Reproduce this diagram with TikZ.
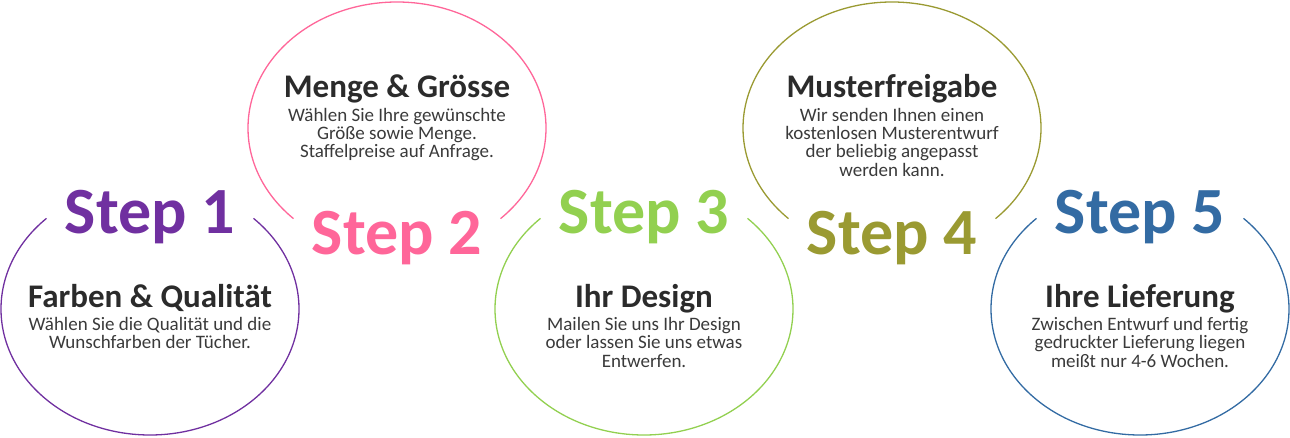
\documentclass[tikz,border=0pt]{standalone}
\usepackage{fontspec}
\setmainfont{Carlito}
\definecolor{cpurple}{HTML}{7030A0}
\definecolor{cpink}{HTML}{FF6699}
\definecolor{cgreen}{HTML}{92D050}
\definecolor{colive}{HTML}{9A9A32}
\definecolor{cblue}{HTML}{336BA3}
\definecolor{ctitle}{HTML}{2B2B2B}
\definecolor{cbody}{HTML}{3A3A3A}
\begin{document}
\begin{tikzpicture}[x=1pt,y=1pt,
  ring/.style={line width=1.3pt},
  steplabel/.style={font=\fontsize{66}{66}\selectfont\bfseries, anchor=base, inner sep=0pt},
  titlelabel/.style={font=\fontsize{33}{33}\selectfont\bfseries, text=ctitle, anchor=base, inner sep=0pt},
  bodylabel/.style={font=\fontsize{19}{18.5}\selectfont, text=cbody, align=center, anchor=base, inner sep=0pt},
]
\useasboundingbox (0,0) rectangle (1290,437);
% rings: bottom (1,3,5) open at top, top (2,4) open at bottom
\draw[ring, cpurple] (150,128) ++(134:149pt and 126pt) arc[start angle=134, end angle=406, x radius=149pt, y radius=126pt];
\draw[ring, cgreen]  (644,128) ++(134:149pt and 126pt) arc[start angle=134, end angle=406, x radius=149pt, y radius=126pt];
\draw[ring, cblue]   (1140,128) ++(134:149pt and 126pt) arc[start angle=134, end angle=406, x radius=149pt, y radius=126pt];
\draw[ring, cpink]   (397,309) ++(-46:149pt and 126pt) arc[start angle=-46, end angle=226, x radius=149pt, y radius=126pt];
\draw[ring, colive]  (892,309) ++(-46:149pt and 126pt) arc[start angle=-46, end angle=226, x radius=149pt, y radius=126pt];
% step labels
\node[steplabel, text=cpurple] (s1) at (150,204) {Step 1};
\node[steplabel, text=cpink]   (s2) at (397,183) {Step 2};
\node[steplabel, text=cgreen]  (s3) at (644,204) {Step 3};
\node[steplabel, text=colive]  (s4) at (892,183) {Step 4};
\node[steplabel, text=cblue]   (s5) at (1140,204) {Step 5};
% titles
\node[titlelabel] (t1) at (150,130) {Farben \& Qualität};
\node[titlelabel] (t2) at (397,339) {Menge \& Grösse};
\node[titlelabel] (t3) at (644,130) {Ihr Design};
\node[titlelabel] (t4) at (892,339) {Musterfreigabe};
\node[titlelabel] (t5) at (1140,130) {Ihre Lieferung};
% bodies (anchored at the baseline of their last line)
\node[bodylabel] (b1) at (150,88.5) {Wählen Sie die Qualität und die\\Wunschfarben der Tücher.};
\node[bodylabel] (b2) at (397,279) {Wählen Sie Ihre gewünschte\\Größe sowie Menge.\\Staffelpreise auf Anfrage.};
\node[bodylabel] (b3) at (644,70) {Mailen Sie uns Ihr Design\\oder lassen Sie uns etwas\\Entwerfen.};
\node[bodylabel] (b4) at (892,260.5) {Wir senden Ihnen einen\\kostenlosen Musterentwurf\\der beliebig angepasst\\werden kann.};
\node[bodylabel] (b5) at (1140,70) {Zwischen Entwurf und fertig\\gedruckter Lieferung liegen\\meißt nur 4-6 Wochen.};
\end{tikzpicture}
\end{document}
